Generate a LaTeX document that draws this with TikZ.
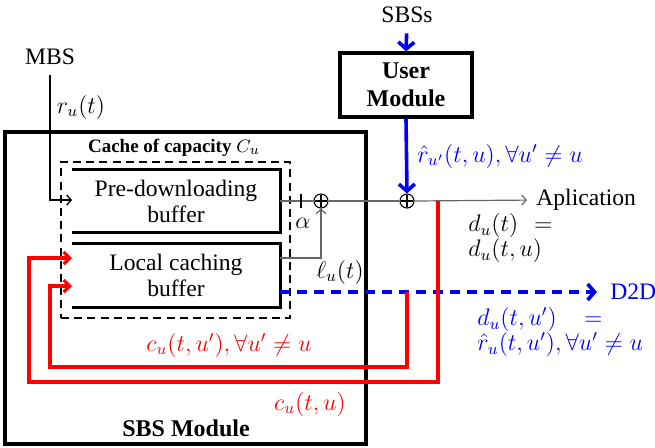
\documentclass[tikz,border=0pt]{standalone}
\usepackage{fontspec}
\setmainfont{Liberation Serif}[BoldFont={Liberation Serif Bold}]
\usetikzlibrary{arrows.meta}
\tikzset{
  lbl/.style={font=\fontsize{11.8}{13}\selectfont, inner sep=0pt, align=center},
  boldlbl/.style={font=\fontsize{12}{14}\selectfont\bfseries, inner sep=0pt, align=center},
  bufbox/.style={minimum width=104pt, inner sep=0pt, font=\fontsize{11.8}{13}\selectfont, align=center},
  bufline/.style={line width=1.5pt},
  grayline/.style={line width=0.6pt, black!60},
  thinblk/.style={line width=0.65pt, black},
  redline/.style={line width=1.6pt, red},
  blueline/.style={line width=1.8pt, blue},
  sumnode/.style={circle, draw, line width=0.55pt, minimum size=7pt, inner sep=0pt},
  barb/.style={-{Straight Barb[length=3pt,width=6pt]}},
  bigbarb/.style={-{Straight Barb[length=3.5pt,width=8pt]}},
  thinbarb/.style={-{Straight Barb[length=2.2pt,width=5pt]}},
  eqlbl/.style={font=\fontsize{11.8}{12.5}\selectfont, inner sep=0pt, align=left, anchor=north west},
}
\begin{document}
\begin{tikzpicture}[x=0.5pt,y=-0.5pt]
\useasboundingbox (0,0) rectangle (655,447);

% outer SBS module box
\node[draw, line width=1.6pt, minimum width=180.5pt, minimum height=156pt, inner sep=0pt] (sbsmod) at (185.5,288) {};
\node[boldlbl] (sbslabel) at (186,428) {SBS Module};

% cache box
\node[draw, dashed, dash pattern=on 4pt off 2.6pt, line width=1pt, minimum width=114.5pt, minimum height=78pt, inner sep=0pt] (cache) at (175.5,240) {};
\node[font=\fontsize{9.5}{11}\selectfont\bfseries, inner sep=0pt] (cachelabel) at (174,148) {Cache of capacity $C_u$};

% buffers
\node[bufbox, minimum height=31pt] (pre) at (176,201) {Pre-downloading\\buffer};
\draw[bufline] (pre.north west) -- (pre.north east) -- (pre.south east) -- (pre.south west);
\node[bufbox, minimum height=31.5pt] (lc) at (176,275.5) {Local caching\\buffer};
\draw[bufline] (lc.north west) -- (lc.north east) -- (lc.south east) -- (lc.south west);

\coordinate (preIn) at (72,200);
\coordinate (lcIn1) at (72,258);
\coordinate (lcIn2) at (72,286);
\coordinate (lcOut) at (280,258);
\coordinate (lcD2D) at (280,292);

% MBS
\node[lbl, inner ysep=5pt] (mbs) at (50,57) {MBS};
\draw[thinblk, thinbarb] (mbs.south) |- (preIn);
\node[lbl] (ru) at (81,107) {$r_u(t)$};

% sum nodes
\node[sumnode] (p1) at (321,201) {};
\draw[line width=0.55pt, shorten <=1pt, shorten >=1pt] (p1.north) -- (p1.south);
\draw[line width=0.55pt, shorten <=1pt, shorten >=1pt] (p1.west) -- (p1.east);
\node[sumnode] (p2) at (407,201) {};
\draw[line width=0.55pt, shorten <=1pt, shorten >=1pt] (p2.north) -- (p2.south);
\draw[line width=0.55pt, shorten <=1pt, shorten >=1pt] (p2.west) -- (p2.east);

% pre -> p1 with alpha tick
\draw[grayline] (pre.east) -- (p1.west);
\coordinate (tick) at (301,201);
\draw[line width=0.9pt] ([yshift=3.5pt]tick) -- ([yshift=-3.5pt]tick);
\node[lbl] (alpha) at (303,223) {$\alpha$};

% local caching -> p1
\draw[grayline, thinbarb] (lcOut) -| (p1.south);
\node[lbl] (ell) at (340,272) {$\ell_u(t)$};

% p1 -> p2 -> application
\draw[grayline] (p1.east) -- (p2.west);
\node[lbl, anchor=west] (app) at (536,200) {Aplication};
\draw[grayline, thinbarb, shorten >=4.5pt] (p2.east) -- (app.west);
\node[eqlbl] (du) at (468,213) {\makebox[42pt][l]{$d_u(t)$\hfill$=$}\\$d_u(t,u)$};

% User module
\node[lbl] (sbss) at (407,15) {SBSs};
\node[draw, line width=1.6pt, minimum width=66pt, minimum height=32pt, inner sep=0pt, font=\fontsize{12}{14}\selectfont\bfseries, align=center] (um) at (406,85) {User\\Module};
\draw[blueline, bigbarb, shorten <=5pt] (sbss.south) -- (um.north);
\draw[blueline, bigbarb] (um.south) -- (p2.north);
\node[lbl, blue, anchor=west] (rhat) at (417,156) {$\hat{r}_{u'}(t,u), \forall u' \neq u$};

% D2D
\node[lbl, blue, anchor=west] (d2d) at (610,292) {D2D};
\draw[line width=1.8pt, blue, dash pattern=on 5pt off 3.5pt, bigbarb, shorten >=6.5pt] (lcD2D) -- (d2d.west);
\node[eqlbl, blue] (dd) at (477,307) {\makebox[62.5pt][l]{$d_u(t,u')$\hfill$=$}\\$\hat{r}_u(t,u'), \forall u' \neq u$};

% red feedback
\coordinate (rs1) at (438,201);
\coordinate (rs2) at (407,292);
\draw[redline, barb] (rs1) |- (29,382) |- (lcIn1);
\draw[redline, barb] (rs2) |- (50,367) |- (lcIn2);
\node[lbl, red] (c1) at (229,345) {$c_u(t,u'), \forall u' \neq u$};
\node[lbl, red] (c2) at (310,404) {$c_u(t,u)$};
\end{tikzpicture}
\end{document}
